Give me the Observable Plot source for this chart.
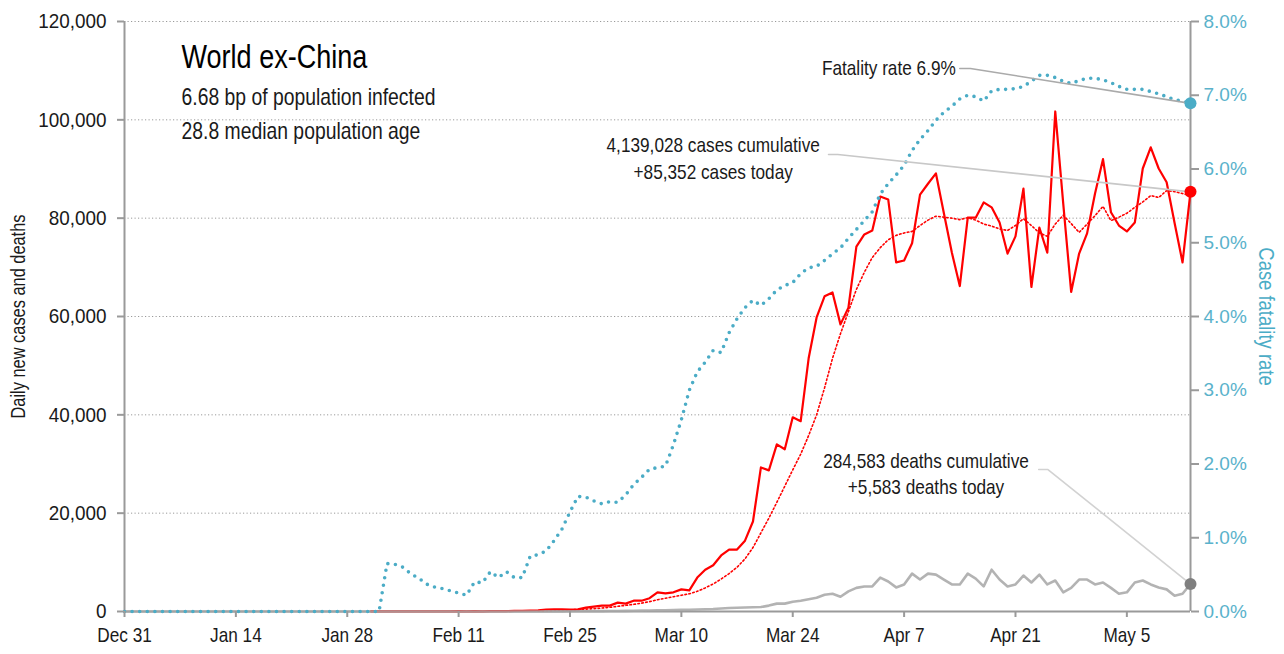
<!DOCTYPE html>
<html>
<head>
<meta charset="utf-8">
<script src="https://cdn.jsdelivr.net/npm/d3@7"></script>
<script src="https://cdn.jsdelivr.net/npm/@observablehq/plot@0.6"></script>
<style>
  html, body { margin: 0; padding: 0; background: #fff; }
  #chart svg { display: block; }
</style>
</head>
<body>
<div id="chart"></div>
<script>
// ---------- DATA ----------
const startDate = "2019-12-31"; // first day of the series (one value per day)

// Daily new cases (world ex-China)
const cases = [
  null,null,null,null,null,null,null,null,null,null,
  null,null,null,null,null,null,null,null,null,null,
  null,null,null,null,null,null,null,null,null,null,
  null,20,30,20,30,20,40,30,20,30,
  40,10,60,20,80,30,70,60,90,120,
  150,200,250,380,420,450,400,420,800,1000,
  1200,1200,1800,1600,2200,2200,2700,3900,3700,3900,
  4500,4300,6900,8500,9400,11400,12600,12600,14400,18300,
  29300,28700,34000,33000,39500,38700,51500,59800,64100,64900,
  58400,61800,74200,76700,77500,84400,83800,71000,71400,74900,
  84800,87000,89100,81000,73000,66200,80100,80100,83200,82200,
  79100,72800,76300,86000,66000,78100,73000,101700,83000,65000,
  72800,76900,85000,92000,81200,78500,77300,79100,90100,94400,
  90100,87300,79000,71000,85352
];

// Smoothed daily new cases (dotted red line)
const casesAvg = [
  null,null,null,null,null,null,null,null,null,null,
  null,null,null,null,null,null,null,null,null,null,
  null,null,null,null,null,null,null,null,null,null,
  null,null,null,null,null,null,null,null,null,null,
  null,null,null,null,null,null,null,null,null,null,
  null,null,150,200,250,300,350,400,480,580,
  700,850,1050,1250,1450,1700,2000,2400,2700,3000,
  3300,3600,4100,4800,5600,6600,7700,9000,10700,13000,
  16000,19000,22200,25500,28800,32000,35800,40000,45500,51500,
  56500,61000,65500,69000,72000,74000,75600,76500,77000,77300,
  78500,79600,80400,80200,80000,79700,80100,79600,78800,78400,
  77800,77500,78500,79900,78500,77000,76300,78800,80600,78900,
  77100,78800,80500,82400,79500,80200,81000,82200,83300,84600,
  84200,85600,85400,85000,84600
];

// Daily deaths
const deaths = [
  0,0,0,0,0,0,0,0,0,0,
  0,0,0,0,0,0,0,0,0,0,
  0,0,0,0,0,0,0,0,0,0,
  0,0,0,0,0,0,0,0,0,0,
  0,0,0,0,0,0,0,0,0,0,
  0,10,15,20,25,30,40,50,60,70,
  80,90,110,130,150,170,200,230,250,280,
  330,350,420,450,500,620,700,750,800,850,
  900,1200,1600,1600,2000,2200,2500,2800,3400,3600,
  3000,4100,4800,5100,5100,6900,6100,4900,5500,7700,
  6500,7700,7500,6500,5500,5500,7700,6700,5100,8500,
  6500,5100,5500,7300,5900,7500,5500,6300,3900,4800,
  6500,6500,5500,5900,4800,3600,3900,5900,6300,5500,
  4900,4500,3200,3600,5583
];

// Case fatality rate, percent (right axis)
const cfr = [
  0,0,0,0,0,0,0,0,0,0,
  0,0,0,0,0,0,0,0,0,0,
  0,0,0,0,0,0,0,0,0,0,
  0,0,0,0.65,0.64,0.60,0.51,0.45,0.37,0.33,
  0.31,0.28,0.25,0.22,0.40,0.39,0.54,0.46,0.54,0.46,
  0.46,0.75,0.77,0.82,0.96,1.12,1.35,1.56,1.55,1.50,
  1.46,1.49,1.48,1.58,1.72,1.82,1.93,1.95,1.97,2.26,
  2.60,3.00,3.25,3.38,3.54,3.51,3.78,3.97,4.12,4.22,
  4.15,4.24,4.36,4.42,4.46,4.58,4.66,4.68,4.76,4.85,
  4.93,5.06,5.18,5.30,5.42,5.66,5.80,5.92,6.05,6.25,
  6.40,6.52,6.66,6.77,6.85,6.95,7.00,6.98,6.92,7.06,
  7.08,7.08,7.09,7.12,7.19,7.27,7.27,7.24,7.19,7.16,
  7.20,7.23,7.23,7.21,7.17,7.12,7.08,7.08,7.08,7.05,
  7.02,6.98,6.94,6.92,6.89
];

// Axis ticks
const xTicks = ["2019-12-31","2020-01-14","2020-01-28","2020-02-11","2020-02-25",
                "2020-03-10","2020-03-24","2020-04-07","2020-04-21","2020-05-05"];
const leftTicks = [0, 20000, 40000, 60000, 80000, 100000, 120000];
const rightTicks = [0, 1, 2, 3, 4, 5, 6, 7, 8]; // percent

// Texts
const title = "World ex-China";
const subtitles = ["6.68 bp of population infected", "28.8 median population age"];
const yLabelLeft = "Daily new cases and deaths";
const yLabelRight = "Case fatality rate";
const noteFatality = "Fatality rate 6.9%";
const noteCases = "4,139,028 cases cumulative\n+85,352 cases today";
const noteDeaths = "284,583 deaths cumulative\n+5,583 deaths today";

// Annotation anchors (date, value on the left scale)
const fatalityLabelAt = {date: "2020-04-14", value: 110450};
const fatalityElbow = "2020-04-15T08:00Z";
const casesLabelAt = {date: "2020-03-14", value: 92450};
const casesLeaderStart = {date: "2020-03-28T12:00Z", value: 92950};
const casesElbow = "2020-03-29T16:00Z";
const deathsLabelAt = {date: "2020-04-09T18:00Z", value: 28270};
const deathsLeaderStart = {date: "2020-04-23T22:00Z", value: 28880};
const deathsElbow = "2020-04-25T02:00Z";

// ---------- BUILD ----------
const RATIO = 120000 / 8; // 8% on the right axis == 120,000 on the left axis
const BLUE = "#4bacc6";
const RED = "#ff0000";
const GREY = "#a6a6a6";
const BASEFONT = "'Liberation Sans', Arial, sans-serif";
const CONDENSE = 0.82;     // horizontal squeeze to emulate the condensed face
const CONDENSE_YTICK = 0.9;

const parse = s => new Date(s.length === 10 ? s + "T00:00Z" : s);
const start = parse(startDate);
const rows = cfr.map((c, i) => ({
  date: d3.utcDay.offset(start, i),
  cases: cases[i],
  casesAvg: casesAvg[i],
  deaths: deaths[i],
  cfr: c * RATIO
}));
const last = rows[rows.length - 1];

const fatalityLeader = [
  {date: parse(fatalityLabelAt.date), value: fatalityLabelAt.value},
  {date: parse(fatalityElbow), value: fatalityLabelAt.value},
  {date: last.date, value: last.cfr}
];
const casesLeader = [
  {date: parse(casesLeaderStart.date), value: casesLeaderStart.value},
  {date: parse(casesElbow), value: casesLeaderStart.value},
  {date: last.date, value: last.cases}
];
const deathsLeader = [
  {date: parse(deathsLeaderStart.date), value: deathsLeaderStart.value},
  {date: parse(deathsElbow), value: deathsLeaderStart.value},
  {date: last.date, value: last.deaths}
];

const chart = Plot.plot({
  width: 1284,
  height: 654,
  marginLeft: 124,
  marginRight: 94,
  marginTop: 21,
  marginBottom: 43,
  style: {fontFamily: BASEFONT, fontSize: "21px", color: "#1a1a1a", background: "#fff"},
  x: {type: "utc", domain: [rows[0].date, last.date]},
  y: {domain: [0, 120000]},
  marks: [
    Plot.gridY(leftTicks.slice(1), {stroke: "#9a9a9a", strokeOpacity: 1, strokeWidth: 1, strokeDasharray: "1.2,2.3"}),
    // axis lines
    Plot.ruleX([rows[0].date, last.date], {stroke: "#9a9a9a", strokeWidth: 2}),
    Plot.ruleY([0], {stroke: "#9a9a9a", strokeWidth: 2}),
    // series
    Plot.line(rows, {x: "date", y: "casesAvg", stroke: RED, strokeWidth: 1.6, strokeDasharray: "1.6,2.4"}),
    Plot.line(rows, {x: "date", y: "cases", stroke: RED, strokeWidth: 2.2}),
    Plot.line(rows, {x: "date", y: "deaths", stroke: GREY, strokeWidth: 2.6, strokeOpacity: 0.85}),
    Plot.line(rows, {x: "date", y: "cfr", stroke: BLUE, strokeWidth: 3.6, strokeDasharray: "0,7.6", strokeLinecap: "round"}),
    // leaders
    Plot.line(fatalityLeader, {x: "date", y: "value", stroke: "#aaaaaa", strokeWidth: 1.6}),
    Plot.line(casesLeader, {x: "date", y: "value", stroke: "#c8c8c8", strokeWidth: 1.6}),
    Plot.line(deathsLeader, {x: "date", y: "value", stroke: "#d2d2d2", strokeWidth: 1.6}),
    // end markers
    Plot.dot([last], {x: "date", y: "cfr", r: 6, fill: BLUE}),
    Plot.dot([last], {x: "date", y: "cases", r: 6, fill: RED}),
    Plot.dot([last], {x: "date", y: "deaths", r: 6, fill: "#7f7f7f"}),
    // annotations
    Plot.text([noteFatality], {x: () => parse(fatalityLabelAt.date), y: () => fatalityLabelAt.value, textAnchor: "end", dx: -4, fontSize: 21, fill: "#1a1a1a"}),
    Plot.text([noteCases], {x: () => parse(casesLabelAt.date), y: () => casesLabelAt.value, textAnchor: "middle", lineHeight: 1.27, fontSize: 21, fill: "#1a1a1a"}),
    Plot.text([noteDeaths], {x: () => parse(deathsLabelAt.date), y: () => deathsLabelAt.value, textAnchor: "middle", lineHeight: 1.27, fontSize: 21, fill: "#1a1a1a"}),
    // title block
    Plot.text([title], {frameAnchor: "top-left", dx: 57, dy: 36, lineAnchor: "middle", textAnchor: "start", fontSize: 33, fill: "#000"}),
    Plot.text([subtitles[0]], {frameAnchor: "top-left", dx: 57, dy: 76, lineAnchor: "middle", textAnchor: "start", fontSize: 23.6, fill: "#1a1a1a"}),
    Plot.text([subtitles[1]], {frameAnchor: "top-left", dx: 57, dy: 110, lineAnchor: "middle", textAnchor: "start", fontSize: 23.6, fill: "#1a1a1a"}),
    // axis titles
    Plot.text([yLabelLeft], {frameAnchor: "left", dx: -106, rotate: -90, textAnchor: "middle", fontSize: 20, fill: "#1a1a1a"}),
    Plot.text([yLabelRight], {frameAnchor: "right", dx: 76, rotate: 90, textAnchor: "middle", fontSize: 22.5, fill: BLUE}),
    // axes
    Plot.axisY({ticks: leftTicks, tickFormat: d3.format(","), tickSize: 7, tickPadding: 11, stroke: "#9a9a9a", strokeWidth: 2, fill: "#1a1a1a", fontSize: 21, label: null}),
    Plot.axisY({anchor: "right", ticks: rightTicks.map(p => p * RATIO), tickFormat: d => (d / RATIO).toFixed(1) + "%", tickSize: 8, tickPadding: 5, stroke: "#9a9a9a", strokeWidth: 2, fill: "#5ab2cb", fontSize: 19, fontFamily: "'Liberation Sans', Arial, sans-serif", label: null}),
    Plot.axisX({ticks: xTicks.map(parse), tickFormat: d3.utcFormat("%b %-d"), tickSize: 6, tickPadding: 10, stroke: "#9a9a9a", strokeWidth: 2, fill: "#1a1a1a", fontSize: 21, label: null})
  ]
});

// Squeeze texts horizontally (condensed look), except the right-axis percentages
d3.select(chart).selectAll("text").each(function() {
  if (this.closest("g[font-family]")) return;
  const g = this.closest("g[aria-label]");
  const s = g && g.getAttribute("aria-label") === "y-axis tick label" ? CONDENSE_YTICK : CONDENSE;
  const tr = this.getAttribute("transform");
  if (tr) {
    this.setAttribute("transform", tr + ` scale(${s},1)`);
  } else {
    const x = +this.getAttribute("x") || 0, y = +this.getAttribute("y") || 0;
    this.removeAttribute("x"); this.removeAttribute("y");
    this.setAttribute("transform", `translate(${x},${y}) scale(${s},1)`);
  }
});
document.getElementById("chart").appendChild(chart);
</script>
</body>
</html>
